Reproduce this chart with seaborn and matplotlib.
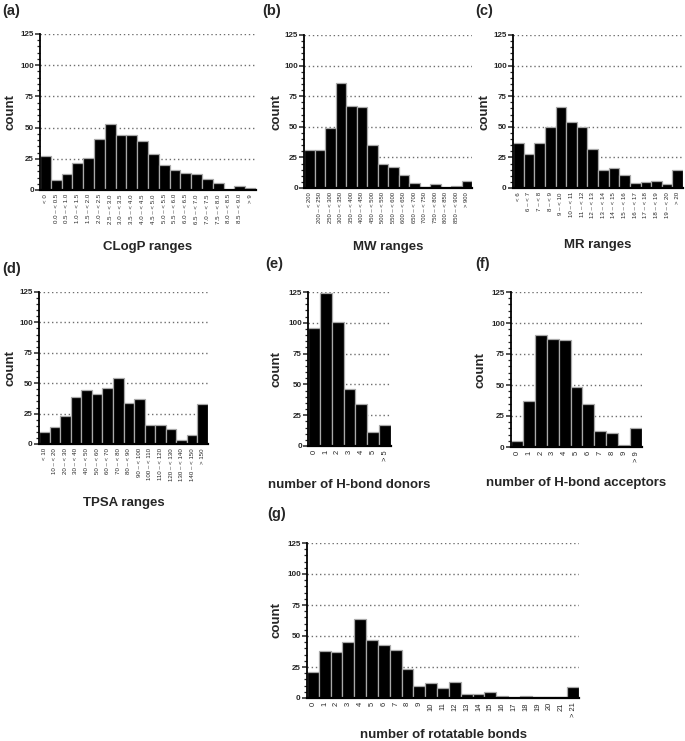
import pandas as pd
import seaborn as sns
import matplotlib.pyplot as plt
from matplotlib.ticker import MultipleLocator

# ---- data (counts) ----
clogp_labels = ["< 0", "0.0 – < 0.5", "0.5 – < 1.0", "1.0 – < 1.5", "1.5 – < 2.0",
                "2.0 – < 2.5", "2.5 – < 3.0", "3.0 – < 3.5", "3.5 – < 4.0", "4.0 – < 4.5",
                "4.5 – < 5.0", "5.0 – < 5.5", "5.5 – < 6.0", "6.0 – < 6.5", "6.5 – < 7.0",
                "7.0 – < 7.5", "7.5 – < 8.0", "8.0 – < 8.5", "8.5 – < 9.0", "> 9"]
clogp_counts = [27, 8, 13, 22, 26, 41, 53, 44, 44, 39, 29, 20, 16, 14, 13, 9, 6, 0, 3, 2]

mw_labels = ["< 200", "200 – < 250", "250 – < 300", "300 – < 350", "350 – < 400",
             "400 – < 450", "450 – < 500", "500 – < 550", "550 – < 600", "600 – < 650",
             "650 – < 700", "700 – < 750", "750 – < 800", "800 – < 850", "850 – < 900", "> 900"]
mw_counts = [31, 31, 49, 86, 67, 66, 35, 20, 17, 11, 4, 1, 3, 0, 2, 6]

mr_labels = ["< 6", "6 – < 7", "7 – < 8", "8 – < 9", "9 – < 10", "10 – < 11", "11 – < 12",
             "12 – < 13", "13 – < 14", "14 – < 15", "15 – < 16", "16 – < 17", "17 – < 18",
             "18 – < 19", "19 – < 20", "> 20"]
mr_counts = [37, 28, 37, 50, 66, 54, 50, 32, 15, 16, 11, 4, 5, 6, 3, 15]

tpsa_labels = ["< 10", "10 – < 20", "20 – < 30", "30 – < 40", "40 – < 50", "50 – < 60",
               "60 – < 70", "70 – < 80", "80 – < 90", "90 – < 100", "100 – < 110",
               "110 – < 120", "120 – < 130", "130 – < 140", "140 – < 150", "> 150"]
tpsa_counts = [10, 14, 23, 39, 44, 41, 46, 54, 34, 37, 16, 16, 12, 3, 7, 33]

hbd_labels = ["0", "1", "2", "3", "4", "5", "> 5"]
hbd_counts = [96, 124, 101, 46, 34, 11, 17]

hba_labels = ["0", "1", "2", "3", "4", "5", "6", "7", "8", "9", "> 9"]
hba_counts = [5, 37, 90, 87, 86, 48, 35, 13, 11, 2, 15]

rotb_labels = ["0", "1", "2", "3", "4", "5", "6", "7", "8", "9", "10", "11", "12",
               "13", "14", "15", "16", "17", "18", "19", "20", "21", "> 21"]
rotb_counts = [21, 38, 37, 45, 64, 47, 43, 39, 23, 10, 12, 8, 13, 3, 3, 5, 2, 0, 2, 1, 1, 1, 9]

W, H = 685, 741

sns.set_style("ticks")
plt.rcParams["font.family"] = ["Liberation Sans", "DejaVu Sans"]

fig = plt.figure(figsize=(W / 100, H / 100), dpi=100)


def draw_panel(labels, counts, xlabel, tag, box, xlab_y, ylab_x, tag_xy, tick_size):
    left, top, right, bottom = box
    ax = fig.add_axes([left / W, 1 - bottom / H, (right - left) / W, (bottom - top) / H])

    df = pd.DataFrame({"range": labels, "count": counts})
    sns.barplot(data=df, x="range", y="count", order=labels, color="black",
                saturation=1, width=1, edgecolor="#a9a9a9", linewidth=0.9,
                ax=ax, zorder=2)

    ax.set_xlim(-0.5, len(labels) - 0.5)
    ax.set_ylim(0, 125)
    ax.yaxis.set_major_locator(MultipleLocator(25))
    ax.yaxis.set_minor_locator(MultipleLocator(5))
    ax.yaxis.grid(True, which="major", linestyle=(0, (1, 2)), color="#6e6e6e", linewidth=1.0)
    ax.set_axisbelow(True)

    sns.despine(ax=ax)
    ax.spines["left"].set_linewidth(1.3)
    ax.spines["bottom"].set_linewidth(1.6)
    for s in ["left", "bottom"]:
        ax.spines[s].set_color("black")

    ax.tick_params(axis="y", which="major", length=3.5, width=1.1, labelsize=5.8, pad=1)
    ax.tick_params(axis="y", which="minor", length=2, width=0.9)
    ax.tick_params(axis="x", length=0, labelsize=tick_size, pad=3, rotation=90)
    for t in ax.get_yticklabels():
        t.set_fontweight("bold")

    ax.set_xlabel(xlabel, fontsize=9.5, fontweight="bold")
    ax.set_ylabel("count", fontsize=9.5, fontweight="bold")
    ax.xaxis.label.set_va("center")
    ax.yaxis.label.set_va("center")
    ax.xaxis.set_label_coords(0.5, (bottom - xlab_y) / (bottom - top))
    ax.yaxis.set_label_coords((ylab_x - left) / (right - left), 0.5)

    fig.text(tag_xy[0] / W, 1 - tag_xy[1] / H, tag, fontsize=10.5, fontweight="bold",
             ha="left", va="top")
    return ax


draw_panel(clogp_labels, clogp_counts, "CLogP ranges", "(a)",
           (40, 34, 256, 190), 247, 10, (2, 4), 4.4)
draw_panel(mw_labels, mw_counts, "MW ranges", "(b)",
           (304, 35, 472, 188), 247, 277, (262, 4), 4.2)
draw_panel(mr_labels, mr_counts, "MR ranges", "(c)",
           (513, 35, 683, 188), 245, 485, (475, 4), 4.4)
draw_panel(tpsa_labels, tpsa_counts, "TPSA ranges", "(d)",
           (39, 292, 208, 444), 503, 10, (2, 262), 4.4)
draw_panel(hbd_labels, hbd_counts, "number of H-bond donors", "(e)",
           (308, 292, 391, 446), 485, 277, (265, 257), 5.4)
draw_panel(hba_labels, hba_counts, "number of H-bond acceptors", "(f)",
           (511, 292, 642, 447), 483, 480, (475, 257), 5.4)
draw_panel(rotb_labels, rotb_counts, "number of rotatable bonds", "(g)",
           (307, 543, 579, 698), 735, 276, (267, 507), 5.4)

fig.savefig("out.png", dpi=100, facecolor="white")
